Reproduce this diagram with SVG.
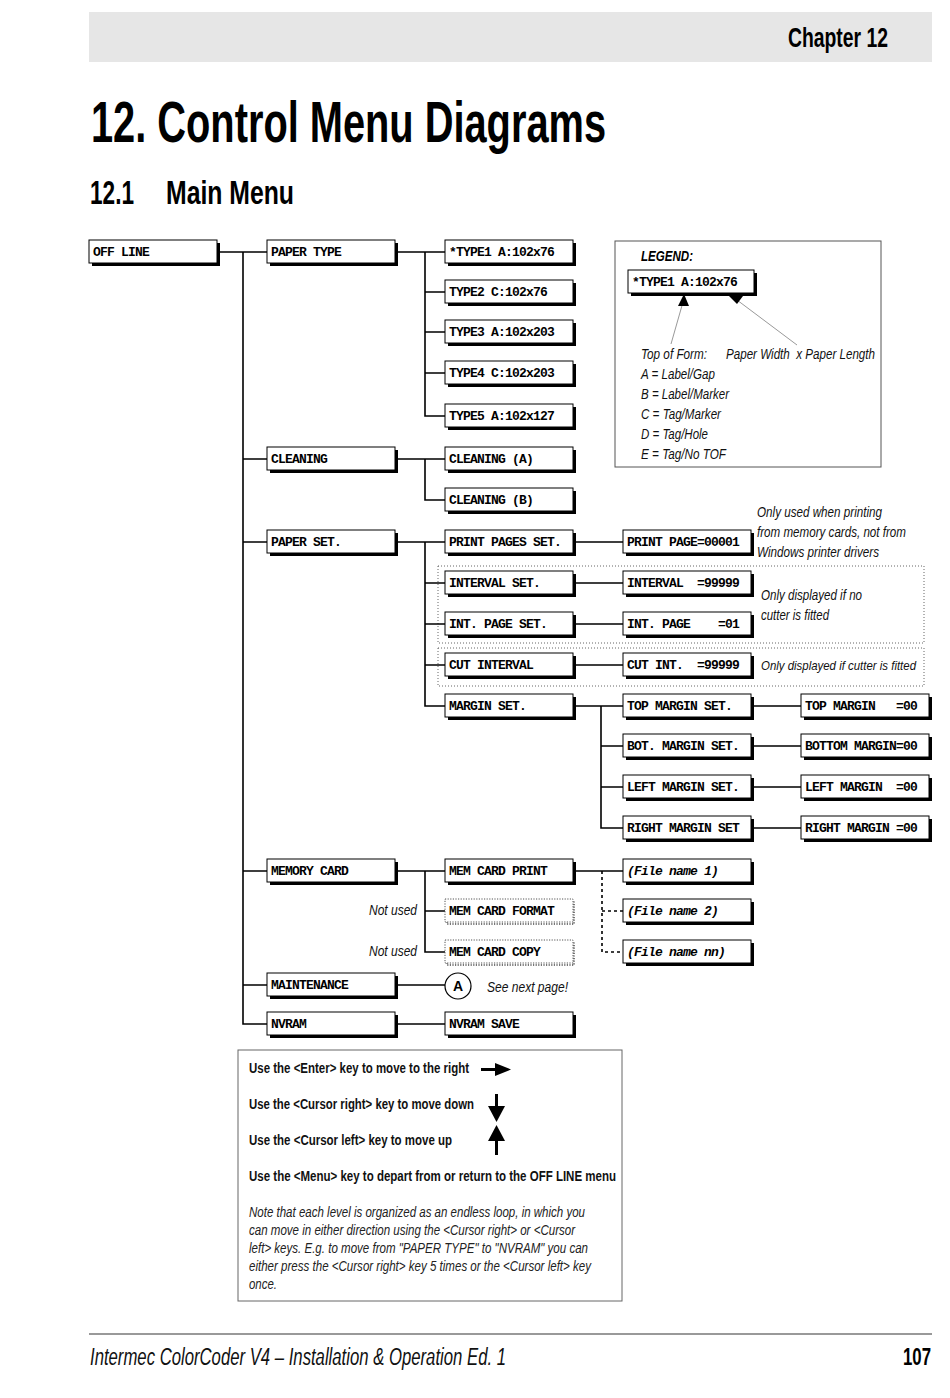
<svg xmlns="http://www.w3.org/2000/svg" width="950" height="1398" viewBox="0 0 950 1398">
<style>
.sh{fill:#000}
.bx{fill:#fff;stroke:#000;stroke-width:1}
.dbx{fill:#fff;stroke:#555;stroke-width:1;stroke-dasharray:1.2 1.4}
.dsh{fill:none;stroke:#777;stroke-width:2;stroke-dasharray:1.2 1.4}
.mono{font-family:"Liberation Mono","Courier New",monospace;font-weight:bold;font-size:13px;letter-spacing:-0.8px;fill:#000;white-space:pre}
.monoi{font-family:"Liberation Mono","Courier New",monospace;font-weight:bold;font-style:italic;font-size:13px;letter-spacing:-0.8px;fill:#000;white-space:pre}
.it{font-family:"Liberation Sans",Arial,sans-serif;font-style:italic;font-size:15px;fill:#111;white-space:pre}
.bd{font-family:"Liberation Sans",Arial,sans-serif;font-weight:bold;font-size:14px;fill:#111}
.nt{font-family:"Liberation Sans",Arial,sans-serif;font-style:italic;font-size:14px;fill:#222}
.hd{font-family:"Liberation Sans",Arial,sans-serif;font-weight:bold;fill:#000}
.cn{fill:none;stroke:#000;stroke-width:1.6}
.dash{fill:none;stroke:#000;stroke-width:1.6;stroke-dasharray:3 3}
.dotr{fill:none;stroke:#666;stroke-width:1;stroke-dasharray:1 2}
</style>

<!-- page header -->
<rect x="89" y="12" width="843" height="50" fill="#e6e6e6"/>
<text class="hd" x="788" y="47" font-size="28" textLength="100" lengthAdjust="spacingAndGlyphs">Chapter 12</text>
<text class="hd" x="91" y="142" font-size="57" textLength="515" lengthAdjust="spacingAndGlyphs">12. Control Menu Diagrams</text>
<text class="hd" x="90" y="204" font-size="33" textLength="44" lengthAdjust="spacingAndGlyphs">12.1</text>
<text class="hd" x="166" y="204" font-size="33" textLength="128" lengthAdjust="spacingAndGlyphs">Main Menu</text>

<!-- dotted grouping frames -->
<rect class="dotr" x="438" y="566" width="486" height="77"/>
<rect class="dotr" x="438" y="648" width="486" height="38"/>

<!-- connectors -->
<g id="connectors">
<path class="cn" d="M217 252H267 M243 252V1024H267 M243 459H267 M243 542H267 M243 871H267 M243 985H267"/>
<path class="cn" d="M395 252H445 M425 252V416H445 M425 292H445 M425 332H445 M425 373H445"/>
<path class="cn" d="M395 459H445 M425 459V500H445"/>
<path class="cn" d="M395 542H445 M425 542V706H445 M425 583H445 M425 624H445 M425 665H445"/>
<path class="cn" d="M573 542H623 M573 583H623 M573 624H623 M573 665H623"/>
<path class="cn" d="M573 706H623 M601 706V828H623 M601 746H623 M601 787H623"/>
<path class="cn" d="M751 706H801 M751 746H801 M751 787H801 M751 828H801"/>
<path class="cn" d="M395 871H445 M425 871V952H445 M425 911H445"/>
<path class="cn" d="M573 871H623"/>
<path class="dash" d="M602 871V952H623 M602 911H623"/>
<path class="cn" d="M395 985H445"/>
<path class="cn" d="M395 1024H445"/>
</g>

<!-- column 1 -->
<g id="n-offline"><rect class="sh" x="92" y="243" width="128" height="23"/><rect class="bx" x="89" y="240" width="128" height="23"/><text class="mono" x="93" y="256">OFF LINE</text></g>

<!-- column 2 -->
<g id="n-papertype"><rect class="sh" x="270" y="243" width="128" height="23"/><rect class="bx" x="267" y="240" width="128" height="23"/><text class="mono" x="271" y="256">PAPER TYPE</text></g>
<g id="n-cleaning"><rect class="sh" x="270" y="450" width="128" height="23"/><rect class="bx" x="267" y="447" width="128" height="23"/><text class="mono" x="271" y="463">CLEANING</text></g>
<g id="n-paperset"><rect class="sh" x="270" y="533" width="128" height="23"/><rect class="bx" x="267" y="530" width="128" height="23"/><text class="mono" x="271" y="546">PAPER SET.</text></g>
<g id="n-memorycard"><rect class="sh" x="270" y="862" width="128" height="23"/><rect class="bx" x="267" y="859" width="128" height="23"/><text class="mono" x="271" y="875">MEMORY CARD</text></g>
<g id="n-maintenance"><rect class="sh" x="270" y="976" width="128" height="23"/><rect class="bx" x="267" y="973" width="128" height="23"/><text class="mono" x="271" y="989">MAINTENANCE</text></g>
<g id="n-nvram"><rect class="sh" x="270" y="1015" width="128" height="23"/><rect class="bx" x="267" y="1012" width="128" height="23"/><text class="mono" x="271" y="1028">NVRAM</text></g>

<!-- column 3 -->
<g id="n-type1"><rect class="sh" x="448" y="243" width="128" height="23"/><rect class="bx" x="445" y="240" width="128" height="23"/><text class="mono" x="449" y="256">*TYPE1 A:102x76</text></g>
<g id="n-type2"><rect class="sh" x="448" y="283" width="128" height="23"/><rect class="bx" x="445" y="280" width="128" height="23"/><text class="mono" x="449" y="296">TYPE2 C:102x76</text></g>
<g id="n-type3"><rect class="sh" x="448" y="323" width="128" height="23"/><rect class="bx" x="445" y="320" width="128" height="23"/><text class="mono" x="449" y="336">TYPE3 A:102x203</text></g>
<g id="n-type4"><rect class="sh" x="448" y="364" width="128" height="23"/><rect class="bx" x="445" y="361" width="128" height="23"/><text class="mono" x="449" y="377">TYPE4 C:102x203</text></g>
<g id="n-type5"><rect class="sh" x="448" y="407" width="128" height="23"/><rect class="bx" x="445" y="404" width="128" height="23"/><text class="mono" x="449" y="420">TYPE5 A:102x127</text></g>
<g id="n-cleana"><rect class="sh" x="448" y="450" width="128" height="23"/><rect class="bx" x="445" y="447" width="128" height="23"/><text class="mono" x="449" y="463">CLEANING (A)</text></g>
<g id="n-cleanb"><rect class="sh" x="448" y="491" width="128" height="23"/><rect class="bx" x="445" y="488" width="128" height="23"/><text class="mono" x="449" y="504">CLEANING (B)</text></g>
<g id="n-printpagesset"><rect class="sh" x="448" y="533" width="128" height="23"/><rect class="bx" x="445" y="530" width="128" height="23"/><text class="mono" x="449" y="546">PRINT PAGES SET.</text></g>
<g id="n-intervalset"><rect class="sh" x="448" y="574" width="128" height="23"/><rect class="bx" x="445" y="571" width="128" height="23"/><text class="mono" x="449" y="587">INTERVAL SET.</text></g>
<g id="n-intpageset"><rect class="sh" x="448" y="615" width="128" height="23"/><rect class="bx" x="445" y="612" width="128" height="23"/><text class="mono" x="449" y="628">INT. PAGE SET.</text></g>
<g id="n-cutinterval"><rect class="sh" x="448" y="656" width="128" height="23"/><rect class="bx" x="445" y="653" width="128" height="23"/><text class="mono" x="449" y="669">CUT INTERVAL</text></g>
<g id="n-marginset"><rect class="sh" x="448" y="697" width="128" height="23"/><rect class="bx" x="445" y="694" width="128" height="23"/><text class="mono" x="449" y="710">MARGIN SET.</text></g>
<g id="n-memcardprint"><rect class="sh" x="448" y="862" width="128" height="23"/><rect class="bx" x="445" y="859" width="128" height="23"/><text class="mono" x="449" y="875">MEM CARD PRINT</text></g>
<g id="n-memcardformat"><rect class="dsh" x="447" y="901" width="127" height="23"/><rect class="dbx" x="445" y="899" width="128" height="23"/><text class="mono" x="449" y="915">MEM CARD FORMAT</text></g>
<g id="n-memcardcopy"><rect class="dsh" x="447" y="942" width="127" height="23"/><rect class="dbx" x="445" y="940" width="128" height="23"/><text class="mono" x="449" y="956">MEM CARD COPY</text></g>
<g id="n-nvramsave"><rect class="sh" x="448" y="1015" width="128" height="23"/><rect class="bx" x="445" y="1012" width="128" height="23"/><text class="mono" x="449" y="1028">NVRAM SAVE</text></g>
<g id="n-a"><circle cx="458" cy="986" r="13" fill="#fff" stroke="#000" stroke-width="1.2"/><text class="hd" x="458" y="991" font-size="14" text-anchor="middle">A</text></g>

<!-- column 4 -->
<g id="n-printpage"><rect class="sh" x="626" y="533" width="128" height="23"/><rect class="bx" x="623" y="530" width="128" height="23"/><text class="mono" x="627" y="546">PRINT PAGE=00001</text></g>
<g id="n-interval"><rect class="sh" x="626" y="574" width="128" height="23"/><rect class="bx" x="623" y="571" width="128" height="23"/><text class="mono" x="627" y="587" xml:space="preserve">INTERVAL  =99999</text></g>
<g id="n-intpage"><rect class="sh" x="626" y="615" width="128" height="23"/><rect class="bx" x="623" y="612" width="128" height="23"/><text class="mono" x="627" y="628" xml:space="preserve">INT. PAGE    =01</text></g>
<g id="n-cutint"><rect class="sh" x="626" y="656" width="128" height="23"/><rect class="bx" x="623" y="653" width="128" height="23"/><text class="mono" x="627" y="669" xml:space="preserve">CUT INT.  =99999</text></g>
<g id="n-topmarginset"><rect class="sh" x="626" y="697" width="128" height="23"/><rect class="bx" x="623" y="694" width="128" height="23"/><text class="mono" x="627" y="710">TOP MARGIN SET.</text></g>
<g id="n-botmarginset"><rect class="sh" x="626" y="737" width="128" height="23"/><rect class="bx" x="623" y="734" width="128" height="23"/><text class="mono" x="627" y="750">BOT. MARGIN SET.</text></g>
<g id="n-leftmarginset"><rect class="sh" x="626" y="778" width="128" height="23"/><rect class="bx" x="623" y="775" width="128" height="23"/><text class="mono" x="627" y="791">LEFT MARGIN SET.</text></g>
<g id="n-rightmarginset"><rect class="sh" x="626" y="819" width="128" height="23"/><rect class="bx" x="623" y="816" width="128" height="23"/><text class="mono" x="627" y="832">RIGHT MARGIN SET</text></g>
<g id="n-file1"><rect class="sh" x="626" y="862" width="128" height="23"/><rect class="bx" x="623" y="859" width="128" height="23"/><text class="monoi" x="627" y="875">(File name 1)</text></g>
<g id="n-file2"><rect class="sh" x="626" y="902" width="128" height="23"/><rect class="bx" x="623" y="899" width="128" height="23"/><text class="monoi" x="627" y="915">(File name 2)</text></g>
<g id="n-filenn"><rect class="sh" x="626" y="943" width="128" height="23"/><rect class="bx" x="623" y="940" width="128" height="23"/><text class="monoi" x="627" y="956">(File name nn)</text></g>

<!-- column 5 -->
<g id="n-topmargin"><rect class="sh" x="804" y="697" width="128" height="23"/><rect class="bx" x="801" y="694" width="128" height="23"/><text class="mono" x="805" y="710" xml:space="preserve">TOP MARGIN   =00</text></g>
<g id="n-bottommargin"><rect class="sh" x="804" y="737" width="128" height="23"/><rect class="bx" x="801" y="734" width="128" height="23"/><text class="mono" x="805" y="750">BOTTOM MARGIN=00</text></g>
<g id="n-leftmargin"><rect class="sh" x="804" y="778" width="128" height="23"/><rect class="bx" x="801" y="775" width="128" height="23"/><text class="mono" x="805" y="791" xml:space="preserve">LEFT MARGIN  =00</text></g>
<g id="n-rightmargin"><rect class="sh" x="804" y="819" width="128" height="23"/><rect class="bx" x="801" y="816" width="128" height="23"/><text class="mono" x="805" y="832">RIGHT MARGIN =00</text></g>

<!-- side notes -->
<text class="it" x="757" y="517" textLength="125" lengthAdjust="spacingAndGlyphs">Only used when printing</text>
<text class="it" x="757" y="537" textLength="149" lengthAdjust="spacingAndGlyphs">from memory cards, not from</text>
<text class="it" x="757" y="557" textLength="122" lengthAdjust="spacingAndGlyphs">Windows printer drivers</text>
<text class="it" x="761" y="600" textLength="101" lengthAdjust="spacingAndGlyphs">Only displayed if no</text>
<text class="it" x="761" y="620" textLength="68" lengthAdjust="spacingAndGlyphs">cutter is fitted</text>
<text class="it" x="761" y="670" style="font-size:13.5px" textLength="155" lengthAdjust="spacingAndGlyphs">Only displayed if cutter is fitted</text>
<text class="it" x="369" y="915" textLength="48" lengthAdjust="spacingAndGlyphs">Not used</text>
<text class="it" x="369" y="956" textLength="48" lengthAdjust="spacingAndGlyphs">Not used</text>
<text class="it" x="487" y="992" textLength="81" lengthAdjust="spacingAndGlyphs">See next page!</text>

<!-- legend -->
<g id="legend">
<rect x="615" y="241" width="266" height="226" fill="none" stroke="#555" stroke-width="1"/>
<text class="hd" x="641" y="261" font-size="15" font-style="italic" textLength="52" lengthAdjust="spacingAndGlyphs">LEGEND:</text>
<rect class="sh" x="631" y="273" width="126" height="23"/><rect class="bx" x="628" y="270" width="126" height="23"/>
<text class="mono" x="632" y="286">*TYPE1 A:102x76</text>
<line x1="671" y1="344" x2="683" y2="302" stroke="#999" stroke-width="1"/>
<polygon points="684,294 678,306 689,306" fill="#000"/>
<line x1="797" y1="345" x2="737" y2="300" stroke="#999" stroke-width="1"/>
<polygon points="729,296 743,296 737,304" fill="#000"/>
<text class="it" x="641" y="359" textLength="66" lengthAdjust="spacingAndGlyphs">Top of Form:</text>
<text class="it" x="726" y="359" textLength="149" lengthAdjust="spacingAndGlyphs">Paper Width  x Paper Length</text>
<text class="it" x="641" y="379" textLength="74" lengthAdjust="spacingAndGlyphs">A = Label/Gap</text>
<text class="it" x="641" y="399" textLength="88" lengthAdjust="spacingAndGlyphs">B = Label/Marker</text>
<text class="it" x="641" y="419" textLength="80" lengthAdjust="spacingAndGlyphs">C = Tag/Marker</text>
<text class="it" x="641" y="439" textLength="67" lengthAdjust="spacingAndGlyphs">D = Tag/Hole</text>
<text class="it" x="641" y="459" textLength="85" lengthAdjust="spacingAndGlyphs">E = Tag/No TOF</text>
</g>

<!-- key box -->
<g id="keys">
<rect x="238" y="1050" width="384" height="251" fill="none" stroke="#666" stroke-width="1"/>
<text class="bd" x="249" y="1073" textLength="220" lengthAdjust="spacingAndGlyphs">Use the &lt;Enter&gt; key to move to the right</text>
<path d="M481 1069.5H497" stroke="#000" stroke-width="3"/>
<polygon points="495,1063 511,1069.5 495,1076" fill="#000"/>
<text class="bd" x="249" y="1109" textLength="225" lengthAdjust="spacingAndGlyphs">Use the &lt;Cursor right&gt; key to move down</text>
<path d="M496.5 1094V1108" stroke="#000" stroke-width="3"/>
<polygon points="488,1106 505,1106 496.5,1122" fill="#000"/>
<text class="bd" x="249" y="1145" textLength="203" lengthAdjust="spacingAndGlyphs">Use the &lt;Cursor left&gt; key to move up</text>
<polygon points="496.5,1125 488,1141 505,1141" fill="#000"/>
<path d="M496.5 1139V1155" stroke="#000" stroke-width="3"/>
<text class="bd" x="249" y="1181" textLength="367" lengthAdjust="spacingAndGlyphs">Use the &lt;Menu&gt; key to depart from or return to the OFF LINE menu</text>
<text class="nt" x="249" y="1217" textLength="336" lengthAdjust="spacingAndGlyphs">Note that each level is organized as an endless loop, in which you</text>
<text class="nt" x="249" y="1235" textLength="326" lengthAdjust="spacingAndGlyphs">can move in either direction using the &lt;Cursor right&gt; or &lt;Cursor</text>
<text class="nt" x="249" y="1253" textLength="339" lengthAdjust="spacingAndGlyphs">left&gt; keys. E.g. to move from "PAPER TYPE" to "NVRAM" you can</text>
<text class="nt" x="249" y="1271" textLength="342" lengthAdjust="spacingAndGlyphs">either press the &lt;Cursor right&gt; key 5 times or the &lt;Cursor left&gt; key</text>
<text class="nt" x="249" y="1289" textLength="28" lengthAdjust="spacingAndGlyphs">once.</text>
</g>

<!-- footer -->
<line x1="89" y1="1334" x2="932" y2="1334" stroke="#999" stroke-width="2"/>
<text class="it" x="90" y="1365" style="font-size:23px" textLength="416" lengthAdjust="spacingAndGlyphs">Intermec ColorCoder V4 – Installation &amp; Operation Ed. 1</text>
<text class="hd" x="903" y="1365" font-size="23" textLength="28" lengthAdjust="spacingAndGlyphs">107</text>
</svg>
